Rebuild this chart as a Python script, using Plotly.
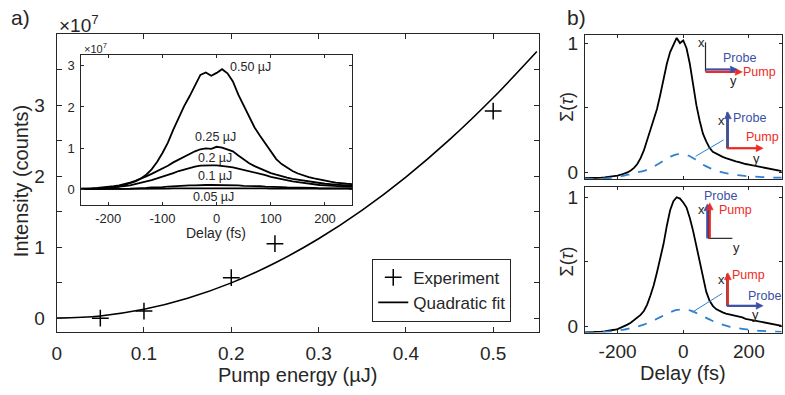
import plotly.graph_objects as go

W, H = 785, 395
FONT = "Liberation Sans, Arial, Helvetica, sans-serif"
AX = "#262626"
BLUE_DASH = "#2f80d0"
ARROW_BLUE = "#3b4fa8"
ARROW_RED = "#ee2a24"

# ---------------- panel a) main data (intensity in units of 1e7 counts) -------------
pump_energy = [0.05, 0.10, 0.20, 0.25, 0.50]
intensity = [0.00, 0.10, 0.57, 1.05, 2.92]

fit_energy = [0.0, 0.05, 0.10, 0.15, 0.20, 0.25, 0.30, 0.35, 0.40, 0.45, 0.50, 0.55]
fit_intensity = [0.0, 0.031, 0.124, 0.280, 0.497, 0.777, 1.119, 1.523, 1.989, 2.517, 3.108, 3.760]

main_xticks = [0, 0.1, 0.2, 0.3, 0.4, 0.5]
main_xlabels = ["0", "0.1", "0.2", "0.3", "0.4", "0.5"]
main_yticks = [0, 1, 2, 3]
main_yminor = [0.5, 1.5, 2.5, 3.5]

# ---------------- inset: delay traces (units of 1e7) ----------------
inset_delay = [-250, -240, -230, -220, -210, -200, -190, -180, -170, -160, -150, -140, -130,
               -120, -110, -100, -90, -80, -70, -60, -50, -40, -30, -20, -10, 0, 10, 20, 30,
               40, 50, 60, 70, 80, 90, 100, 110, 120, 130, 140, 150, 160, 170, 180, 190, 200,
               210, 220, 230, 240, 250]
trace_050 = [0.01, 0.01, 0.01, 0.02, 0.02, 0.03, 0.04, 0.06, 0.10, 0.14, 0.19, 0.26, 0.35,
             0.48, 0.66, 0.88, 1.13, 1.45, 1.75, 2.02, 2.26, 2.52, 2.78, 2.84, 2.76, 2.83,
             2.92, 2.82, 2.62, 2.30, 2.02, 1.74, 1.50, 1.30, 1.10, 0.90, 0.73, 0.61, 0.52,
             0.44, 0.38, 0.33, 0.29, 0.26, 0.23, 0.20, 0.18, 0.16, 0.14, 0.13, 0.12]
trace_025 = [0.01, 0.01, 0.02, 0.03, 0.04, 0.05, 0.07, 0.09, 0.12, 0.16, 0.20, 0.25, 0.31,
             0.37, 0.43, 0.50, 0.57, 0.65, 0.72, 0.79, 0.86, 0.92, 0.97, 0.99, 0.98, 1.03,
             1.01, 0.97, 0.92, 0.82, 0.72, 0.63, 0.56, 0.50, 0.44, 0.39, 0.35, 0.31, 0.28,
             0.25, 0.23, 0.20, 0.18, 0.16, 0.15, 0.13, 0.12, 0.11, 0.10, 0.09, 0.08]
trace_020 = [0.00, 0.01, 0.01, 0.01, 0.02, 0.03, 0.04, 0.05, 0.07, 0.09, 0.12, 0.15, 0.18,
             0.22, 0.26, 0.30, 0.34, 0.39, 0.44, 0.48, 0.52, 0.55, 0.57, 0.58, 0.58, 0.58,
             0.57, 0.55, 0.53, 0.50, 0.47, 0.44, 0.41, 0.37, 0.34, 0.30, 0.27, 0.24, 0.21,
             0.19, 0.17, 0.15, 0.13, 0.12, 0.10, 0.09, 0.08, 0.07, 0.07, 0.06, 0.06]
trace_010 = [0.00, 0.00, 0.00, 0.00, 0.00, 0.00, 0.01, 0.01, 0.01, 0.01, 0.02, 0.02, 0.03,
             0.04, 0.04, 0.05, 0.06, 0.07, 0.07, 0.08, 0.09, 0.09, 0.10, 0.10, 0.10, 0.10,
             0.10, 0.10, 0.09, 0.09, 0.08, 0.08, 0.07, 0.07, 0.06, 0.06, 0.05, 0.05, 0.04,
             0.04, 0.04, 0.03, 0.03, 0.03, 0.02, 0.02, 0.02, 0.02, 0.02, 0.02, 0.02]
trace_005 = [0.00, 0.00, 0.00, 0.00, 0.00, 0.00, 0.00, 0.00, 0.00, 0.00, 0.00, 0.01, 0.01,
             0.01, 0.01, 0.01, 0.01, 0.02, 0.02, 0.02, 0.02, 0.02, 0.03, 0.03, 0.03, 0.03,
             0.03, 0.03, 0.03, 0.02, 0.02, 0.02, 0.02, 0.02, 0.02, 0.01, 0.01, 0.01, 0.01,
             0.01, 0.01, 0.01, 0.01, 0.01, 0.01, 0.01, 0.01, 0.01, 0.01, 0.01, 0.01]
inset_traces = [trace_050, trace_025, trace_020, trace_010, trace_005]
inset_labels = ["0.50 µJ", "0.25 µJ", "0.2 µJ", "0.1 µJ", "0.05 µJ"]
inset_label_x = [62, -2, -3, -3, -5]
inset_label_y = [2.98, 1.26, 0.76, 0.32, -0.20]
inset_xticks = [-200, -100, 0, 100, 200]
inset_xlabels = ["-200", "-100", "0", "100", "200"]
inset_yticks = [0, 1, 2, 3]

# ---------------- panel b) ----------------
b_delay = [-300, -290, -280, -270, -260, -250, -240, -230, -220, -210, -200, -190, -180,
           -170, -160, -150, -140, -130, -120, -110, -100, -90, -80, -70, -60, -50, -40,
           -30, -20, -10, 0, 10, 20, 30, 40, 50, 60, 70, 80, 90, 100, 110, 120, 130, 140,
           150, 160, 170, 180, 190, 200, 210, 220, 230, 240, 250, 260, 270, 280, 290, 300]
sigma_top = [-0.045, -0.045, -0.044, -0.043, -0.042, -0.040, -0.038, -0.035, -0.032, -0.030,
             -0.025, -0.018, -0.010, 0.000, 0.015, 0.035, 0.065, 0.11, 0.17, 0.25, 0.33,
             0.41, 0.49, 0.60, 0.72, 0.84, 0.93, 0.98, 1.04, 1.00, 1.02, 0.96, 0.84, 0.68,
             0.52, 0.40, 0.30, 0.24, 0.19, 0.16, 0.145, 0.13, 0.12, 0.11, 0.10, 0.09, 0.085,
             0.08, 0.07, 0.065, 0.06, 0.055, 0.05, 0.045, 0.04, 0.035, 0.03, 0.025, 0.02,
             0.015, 0.01]
sigma_bottom = [-0.045, -0.045, -0.044, -0.043, -0.042, -0.040, -0.038, -0.035, -0.030,
                -0.025, -0.020, -0.010, 0.000, 0.015, 0.030, 0.050, 0.070, 0.090, 0.12,
                0.17, 0.24, 0.32, 0.42, 0.52, 0.64, 0.78, 0.90, 0.97, 1.00, 0.99, 0.96,
                0.92, 0.84, 0.74, 0.62, 0.50, 0.38, 0.27, 0.20, 0.16, 0.135, 0.12, 0.11,
                0.10, 0.095, 0.09, 0.08, 0.075, 0.07, 0.06, 0.055, 0.05, 0.045, 0.04, 0.035,
                0.03, 0.025, 0.02, 0.015, 0.01, 0.005]
b_delay_dash = [-300, -280, -260, -240, -220, -200, -180, -160, -140, -120, -100, -80, -60,
                -40, -20, 0, 20, 40, 60, 80, 100, 120, 140, 160, 180, 200, 220, 240, 260,
                280, 300]
cross_top = [-0.050, -0.050, -0.049, -0.047, -0.043, -0.035, -0.025, -0.012, 0.000, 0.012,
             0.030, 0.060, 0.090, 0.120, 0.140, 0.140, 0.125, 0.095, 0.060, 0.035, 0.015,
             0.000, -0.010, -0.020, -0.025, -0.030, -0.033, -0.036, -0.038, -0.040, -0.040]
cross_bottom = [-0.045, -0.045, -0.044, -0.042, -0.038, -0.032, -0.024, -0.012, 0.000,
                0.015, 0.035, 0.060, 0.085, 0.110, 0.128, 0.132, 0.125, 0.105, 0.080, 0.055,
                0.032, 0.015, 0.000, -0.010, -0.018, -0.024, -0.030, -0.034, -0.037,
                -0.040, -0.042]
b_xticks = [-200, 0, 200]
b_xlabels = ["-200", "0", "200"]
b_yticks = [0, 1]
b_yminor = [0.5]


def px(x):
    return x / W


def py(y):
    return 1 - y / H


fig = go.Figure()

# main panel
fig.add_trace(go.Scatter(x=pump_energy, y=intensity, mode="markers", name="Experiment",
                         marker=dict(symbol="cross-thin", size=12, color="black",
                                     line=dict(width=1.5, color="black")),
                         xaxis="x", yaxis="y"))
fig.add_trace(go.Scatter(x=fit_energy, y=fit_intensity, mode="lines", name="Quadratic fit",
                         line=dict(color="black", width=1.6, shape="spline"),
                         xaxis="x", yaxis="y"))

# inset
for tr in inset_traces:
    fig.add_trace(go.Scatter(x=inset_delay, y=tr, mode="lines", showlegend=False,
                             line=dict(color="black", width=1.8),
                             xaxis="x2", yaxis="y2"))

# panel b
fig.add_trace(go.Scatter(x=b_delay, y=sigma_top, mode="lines", showlegend=False,
                         line=dict(color="black", width=1.8), xaxis="x3", yaxis="y3"))
fig.add_trace(go.Scatter(x=b_delay_dash, y=cross_top, mode="lines", showlegend=False,
                         line=dict(color=BLUE_DASH, width=1.8, dash="dash", shape="spline"),
                         xaxis="x3", yaxis="y3"))
fig.add_trace(go.Scatter(x=b_delay, y=sigma_bottom, mode="lines", showlegend=False,
                         line=dict(color="black", width=1.8), xaxis="x4", yaxis="y4"))
fig.add_trace(go.Scatter(x=b_delay_dash, y=cross_bottom, mode="lines", showlegend=False,
                         line=dict(color=BLUE_DASH, width=1.8, dash="dash", shape="spline"),
                         xaxis="x4", yaxis="y4"))

axcommon = dict(showline=True, linecolor=AX, linewidth=1, mirror="ticks", ticks="inside",
                tickcolor=AX, showgrid=False, zeroline=False, tickmode="array")


def tf(size):
    return dict(family=FONT, color=AX, size=size)


fig.update_layout(
    width=W, height=H, margin=dict(l=0, r=0, t=0, b=0),
    paper_bgcolor="white", plot_bgcolor="rgba(0,0,0,0)",
    font=dict(family=FONT, color=AX),
    xaxis=dict(axcommon, domain=[px(52), px(537)], range=[0, 0.552], anchor="y",
               tickvals=main_xticks, ticktext=main_xlabels, ticklen=5,
               tickfont=tf(19), ticklabelstandoff=4),
    yaxis=dict(axcommon, domain=[py(335.4), py(33)], range=[-0.2, 4.0], anchor="x",
               tickvals=main_yticks, ticklen=5, tickfont=tf(19), ticklabelstandoff=7,
               minor=dict(tickvals=main_yminor, ticks="inside", ticklen=5, tickcolor=AX)),
    xaxis2=dict(axcommon, domain=[px(76.7), px(349.3)], range=[-250, 250], anchor="y2",
                tickvals=inset_xticks, ticktext=inset_xlabels, ticklen=3,
                tickfont=tf(13), ticklabelstandoff=2),
    yaxis2=dict(axcommon, domain=[py(206), py(53.5)], range=[-0.384, 3.273], anchor="x2",
                tickvals=inset_yticks, ticklen=3, tickfont=tf(13), ticklabelstandoff=3),
    xaxis3=dict(axcommon, domain=[px(583.5), px(781.7)], range=[-300, 300], anchor="y3",
                tickvals=b_xticks, showticklabels=False, ticklen=3),
    yaxis3=dict(axcommon, domain=[py(180), py(33.3)], range=[-0.053, 1.064], anchor="x3",
                tickvals=b_yticks, ticklen=3, tickfont=tf(19), ticklabelstandoff=2,
                minor=dict(tickvals=b_yminor, ticks="inside", ticklen=3, tickcolor=AX)),
    xaxis4=dict(axcommon, domain=[px(583.5), px(781.7)], range=[-300, 300], anchor="y4",
                tickvals=b_xticks, ticktext=b_xlabels, ticklen=3,
                tickfont=tf(19), ticklabelstandoff=2),
    yaxis4=dict(axcommon, domain=[py(335.7), py(188.3)], range=[-0.047, 1.076], anchor="x4",
                tickvals=b_yticks, ticklen=3, tickfont=tf(19), ticklabelstandoff=2,
                minor=dict(tickvals=b_yminor, ticks="inside", ticklen=3, tickcolor=AX)),
    legend=dict(x=px(369.6), y=py(260.7), xanchor="left", yanchor="top",
                bordercolor=AX, borderwidth=1, bgcolor="white", itemwidth=30,
                font=dict(family=FONT, size=17, color=AX), tracegroupgap=0),
)

ann = []
shapes = []


def text(x, y, t, size, color=AX, xanchor="center", angle=0, xref="paper", yref="paper"):
    ann.append(dict(x=x, y=y, xref=xref, yref=yref, text=t, showarrow=False,
                    xanchor=xanchor, yanchor="middle", textangle=angle,
                    font=dict(family=FONT, size=size, color=color)))


def seg(x0, y0, x1, y1, color=AX, width=1.2):
    shapes.append(dict(type="line", xref="paper", yref="paper", x0=px(x0), y0=py(y0),
                       x1=px(x1), y1=py(y1), line=dict(color=color, width=width)))


def arrow(x0, y0, x1, y1, color, width=2.2, head=7, half=3.5):
    # shaft + filled triangular head, in pixel coordinates of the page
    dx, dy = x1 - x0, y1 - y0
    L = (dx * dx + dy * dy) ** 0.5
    ux, uy = dx / L, dy / L
    bx, by = x1 - ux * head, y1 - uy * head
    seg(x0, y0, bx, by, color=color, width=width)
    nx, ny = -uy, ux
    p1 = (bx + nx * half, by + ny * half)
    p2 = (bx - nx * half, by - ny * half)
    path = "M {} {} L {} {} L {} {} Z".format(px(x1), py(y1), px(p1[0]), py(p1[1]),
                                              px(p2[0]), py(p2[1]))
    shapes.append(dict(type="path", xref="paper", yref="paper", path=path,
                       fillcolor=color, line=dict(color=color, width=0.5)))


# panel labels & titles
text(px(16), py(16), "a)", 21)
text(px(575), py(16), "b)", 21)
text(px(52), py(22), "×10<sup>7</sup>", 19, xanchor="left")
text(px(77), py(47), "×10<sup>7</sup>", 11, xanchor="left")
text(px(16), py(182), "Intensity (counts)", 20, angle=-90)
text(px(294.5), py(379), "Pump energy (µJ)", 20)
text(px(212.7), py(235), "Delay (fs)", 14)
text(px(682.6), py(377), "Delay (fs)", 20)
text(px(566), py(106), "Σ(<i>τ</i>)", 18, angle=-90)
text(px(566), py(263), "Σ(<i>τ</i>)", 18, angle=-90)

# inset curve labels (data coordinates of inset)
for lx, ly, lt in zip(inset_label_x, inset_label_y, inset_labels):
    text(lx, ly, lt, 12.5, xref="x2", yref="y2")

# top panel: icon 1 (parallel polarisations)
seg(705, 41, 705, 70.5)
arrow(705, 71, 742, 71, ARROW_RED)
arrow(705, 68.5, 737, 68.5, ARROW_BLUE)
text(px(701), py(41), "x", 13)
text(px(733), py(80), "y", 13)
text(px(739), py(57), "Probe", 12.5, ARROW_BLUE)
text(px(759), py(71), "Pump", 12.5, ARROW_RED)

# top panel: icon 2 (perpendicular)
seg(726.5, 112, 726.5, 148.5)
seg(726.5, 148.5, 760, 148.5)
arrow(727.5, 148.5, 727.5, 111.5, ARROW_BLUE)
arrow(726.5, 148.5, 763, 148.5, ARROW_RED)
text(px(721.5), py(120), "x", 13)
text(px(756.5), py(158.5), "y", 13)
text(px(749), py(117.5), "Probe", 12.5, ARROW_BLUE)
text(px(762), py(137.5), "Pump", 12.5, ARROW_RED)
seg(695, 156.7, 723.3, 140, color=BLUE_DASH, width=1)

# bottom panel: icon 1 (parallel, along x)
seg(708, 206, 708, 240)
seg(708, 240, 732, 240)
arrow(706.8, 240, 706.8, 205, ARROW_BLUE)
arrow(709.3, 240, 709.3, 204, ARROW_RED)
text(px(701), py(211), "x", 13)
text(px(736), py(249.5), "y", 13)
text(px(720), py(197), "Probe", 12.5, ARROW_BLUE)
text(px(735.5), py(211), "Pump", 12.5, ARROW_RED)

# bottom panel: icon 2 (perpendicular)
seg(726.5, 276, 726.5, 308.5)
seg(726.5, 308.5, 758, 308.5)
arrow(727.5, 308.5, 727.5, 275, ARROW_RED)
arrow(726.5, 308.5, 763, 308.5, ARROW_BLUE)
text(px(721.5), py(282), "x", 13)
text(px(755), py(317.5), "y", 13)
text(px(748.5), py(277.5), "Pump", 12.5, ARROW_RED)
text(px(764), py(298.5), "Probe", 12.5, ARROW_BLUE)
seg(691.7, 315, 721.7, 296, color=BLUE_DASH, width=1)

fig.update_layout(annotations=ann, shapes=shapes)

fig.write_html("out.html", config={"displayModeBar": False},
               post_script="document.body.style.margin='0px';"
                           "document.body.style.overflow='hidden';")
